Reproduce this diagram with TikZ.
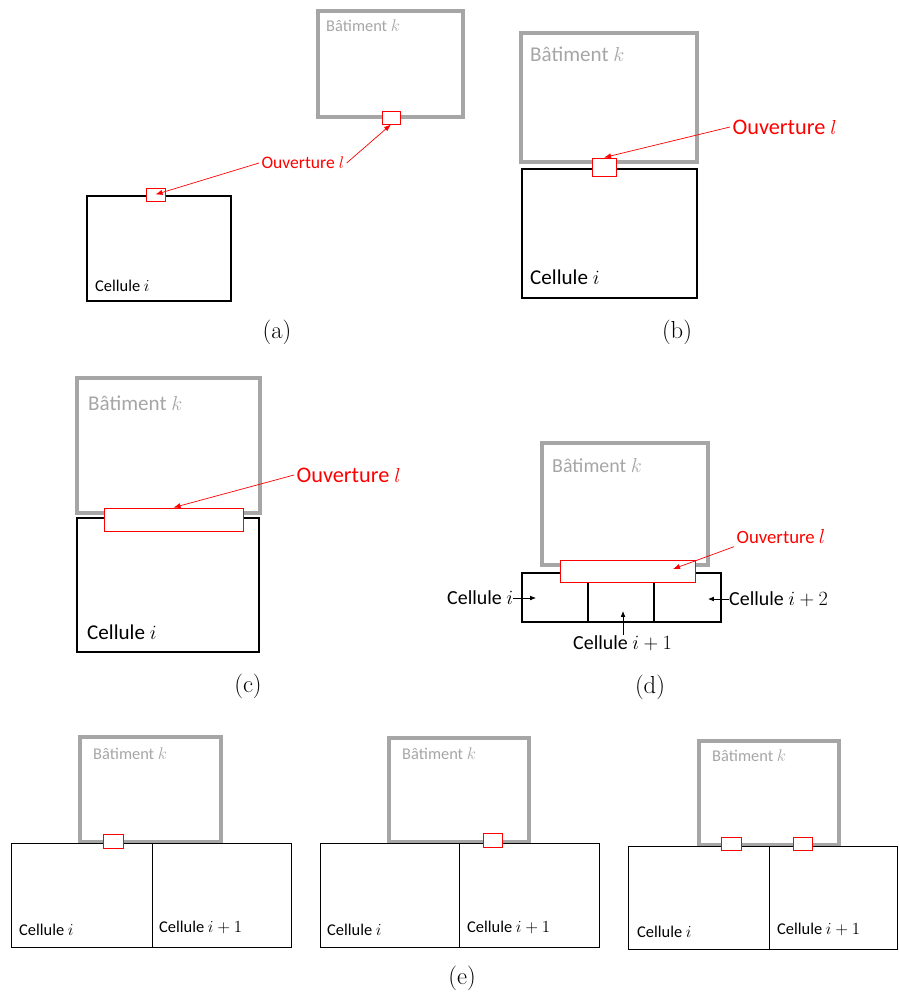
\documentclass[tikz,border=0pt]{standalone}
\usepackage{fontspec}
\newfontfamily\calib{Carlito}
\usetikzlibrary{arrows.meta, fit}
\definecolor{grisbat}{HTML}{A6A6A6}
\definecolor{rougeouv}{HTML}{FF0000}

\tikzset{
    batim/.style={draw=grisbat, line width=#1, inner sep=0pt},
    batim/.default=2.9pt,
    cell/.style={draw=black, line width=#1, inner sep=0pt},
    cell/.default=1.5pt,
    ouv/.style={draw=rougeouv, fill=white, line width=.8pt, inner sep=0pt},
    etiq/.style={anchor=west, inner sep=0pt, font=\calib\fontsize{#1}{#1}\selectfont},
    etiqbat/.style={etiq=#1, text=grisbat},
    etiqouv/.style={etiq=#1, text=rougeouv, inner sep=2pt},
    lien/.style={draw=rougeouv, line width=.6pt, -{Latex[length=6pt, width=4.5pt]}},
    lienoir/.style={draw=black, line width=.6pt, -{Latex[length=5pt, width=4pt]}},
    legende/.style={font=\fontsize{21}{24}\selectfont, inner sep=0pt},
}

\begin{document}
\begin{tikzpicture}[x=0.03cm, y=-0.03cm]
    \useasboundingbox (0,0) rectangle (898,992);

    % (a)
    \node[batim, fit={(318,11) (463,117)}] (bka) {};
    \node[cell=1.6pt, fit={(87,196) (231,301)}] (cia) {};
    \node[ouv, fit={(382,111) (400,124)}] (oka) {};
    \node[ouv, fit={(146,188) (165,201)}] (oia) {};
    \node[etiqbat=14] (tbka) at (326,26) {Bâtiment $k$};
    \node[etiq=14] (tcia) at (95,286) {Cellule $i$};
    \node[etiqouv=15] (toa) at (259,163) {Ouverture $l$};
    \draw[lien] (toa.west) -- (oia.center);
    \draw[lien] (toa.east) -- (oka.south);
    \node[legende] (capa) at (277,332) {(a)};

    % (b)
    \node[batim=3.4pt, fit={(521,33) (697,162)}] (bkb) {};
    \node[cell=1.2pt, fit={(522,169) (697,298)}] (cib) {};
    \node[ouv, fit={(592,158) (616,176)}] (ob) {};
    \node[etiqbat=18] (tbkb) at (530,54) {Bâtiment $k$};
    \node[etiq=18] (tcib) at (530,277) {Cellule $i$};
    \node[etiqouv=19] (tob) at (730,127) {Ouverture $l$};
    \draw[lien] (tob.west) -- (ob.north);
    \node[legende] (capb) at (677,332) {(b)};

    % (c)
    \node[batim=3.4pt, fit={(77,378) (260,513)}] (bkc) {};
    \node[cell=1.6pt, fit={(77,518) (259,652)}] (cic) {};
    \node[ouv, fit={(104,508) (243,531)}] (oc) {};
    \node[etiqbat=18] (tbkc) at (88,403) {Bâtiment $k$};
    \node[etiq=18] (tcic) at (87,632) {Cellule $i$};
    \node[etiqouv=19] (toc) at (294,475) {Ouverture $l$};
    \draw[lien] (toc.west) -- (oc.north);
    \node[legende] (capc) at (248,686) {(c)};

    % (d)
    \node[batim, fit={(542,443) (708,565)}] (bkd) {};
    \node[cell=1.6pt, fit={(522,573) (588,622)}] (cid) {};
    \node[cell=1.6pt, fit={(588,573) (654,622)}] (cjd) {};
    \node[cell=1.6pt, fit={(654,573) (721,622)}] (ckd) {};
    \node[ouv, fit={(560,560) (695,582)}] (od) {};
    \coordinate (odp) at (673,569);
    \node[etiqbat=17] (tbkd) at (552,466) {Bâtiment $k$};
    \node[etiqouv=16] (tod) at (734,537) {Ouverture $l$};
    \draw[lien] (tod.south west) -- (odp);
    \node[etiq=17] (tcid) at (447,598) {Cellule $i$};
    \node[etiq=17] (tckd) at (729,599) {Cellule $i+2$};
    \node[etiq=17] (tcjd) at (573,643) {Cellule $i+1$};
    \coordinate (cidp) at (536,598);
    \coordinate (ckdp) at (708,599);
    \coordinate (cjdp) at (623,611);
    \draw[lienoir] (tcid.east) -- (cidp);
    \draw[lienoir] (tckd.west) -- (ckdp);
    \draw[lienoir] (tcjd.north -| cjdp) -- (cjdp);
    \node[legende] (capd) at (650,687) {(d)};

    % (e) gauche
    \node[batim, fit={(80,737) (221,842)}] (bke) {};
    \node[cell=.6pt, fit={(11,843) (152,947)}] (cie) {};
    \node[cell=.6pt, fit={(152,843) (291,947)}] (cje) {};
    \node[ouv, fit={(103,834) (123,848)}] (oe) {};
    \node[etiqbat=14] (tbke) at (93,754) {Bâtiment $k$};
    \node[etiq=14] (tcie) at (19,930) {Cellule $i$};
    \node[etiq=14] (tcje) at (159,927) {Cellule $i+1$};

    % (e) milieu
    \node[batim, fit={(389,738) (529,842)}] (bkf) {};
    \node[cell=.6pt, fit={(320,843) (459,947)}] (cif) {};
    \node[cell=.6pt, fit={(459,843) (599,947)}] (cjf) {};
    \node[ouv, fit={(483,833) (502,847)}] (of) {};
    \node[etiqbat=14] (tbkf) at (402,754) {Bâtiment $k$};
    \node[etiq=14] (tcif) at (327,930) {Cellule $i$};
    \node[etiq=14] (tcjf) at (467,927) {Cellule $i+1$};

    % (e) droite
    \node[batim, fit={(699,741) (839,845)}] (bkg) {};
    \node[cell=.6pt, fit={(628,846) (769,949)}] (cig) {};
    \node[cell=.6pt, fit={(769,846) (897,949)}] (cjg) {};
    \node[ouv, fit={(721,837) (741,850)}] (og) {};
    \node[ouv, fit={(793,837) (812,850)}] (ohg) {};
    \node[etiqbat=14] (tbkg) at (712,756) {Bâtiment $k$};
    \node[etiq=14] (tcig) at (637,932) {Cellule $i$};
    \node[etiq=14] (tcjg) at (777,929) {Cellule $i+1$};

    \node[legende] (cape) at (462,978) {(e)};
\end{tikzpicture}
\end{document}
